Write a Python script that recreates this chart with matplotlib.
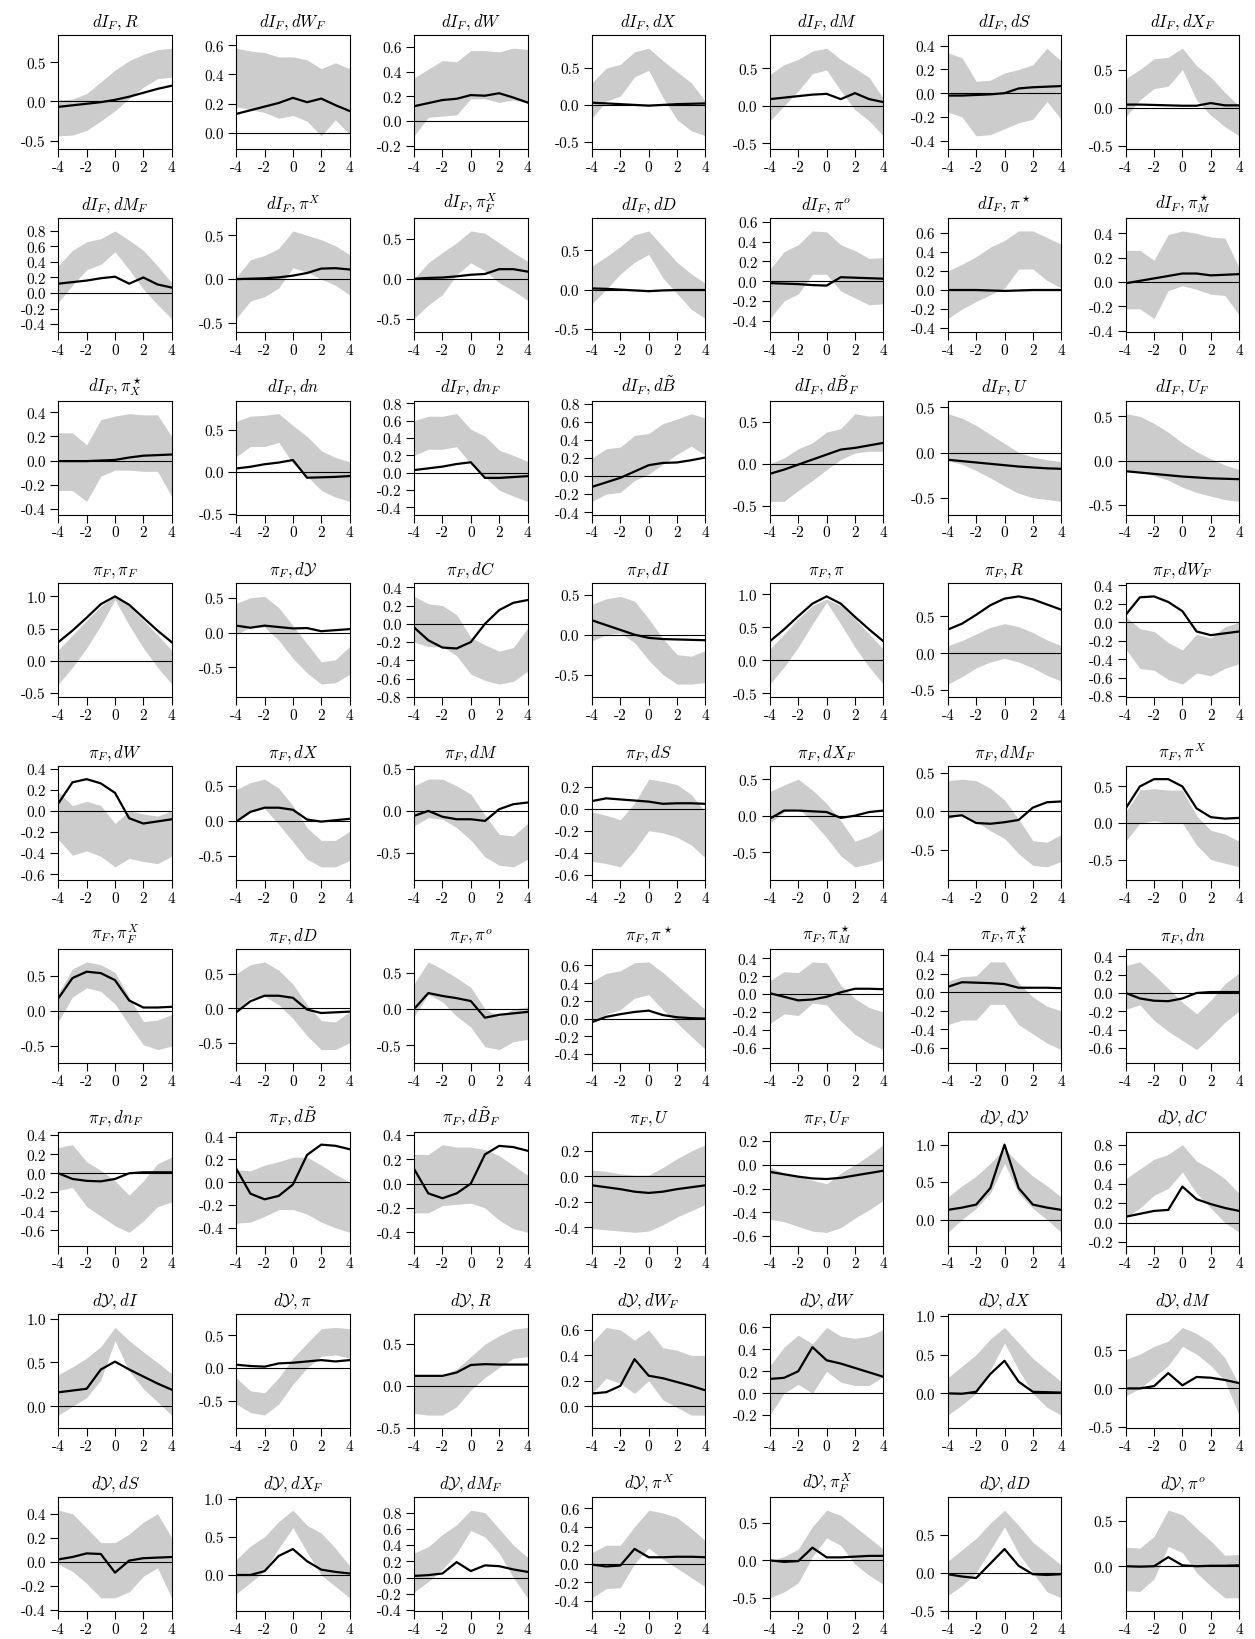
import matplotlib
matplotlib.use('Agg')
import matplotlib.pyplot as plt
from matplotlib.ticker import MultipleLocator, FuncFormatter
import numpy as np

plt.rcParams['font.family'] = ['cmr10', 'DejaVu Serif']
plt.rcParams['mathtext.fontset'] = 'cm'
plt.rcParams['axes.unicode_minus'] = False
plt.rcParams['axes.formatter.use_mathtext'] = True

horizon = [-4, -3, -2, -1, 0, 1, 2, 3, 4]

titles = [
    r'$dI_F, R$', r'$dI_F, dW_F$', r'$dI_F, dW$', r'$dI_F, dX$', r'$dI_F, dM$', r'$dI_F, dS$', r'$dI_F, dX_F$',
    r'$dI_F, dM_F$', r'$dI_F, \pi^X$', r'$dI_F, \pi^X_F$', r'$dI_F, dD$', r'$dI_F, \pi^o$', r'$dI_F, \pi^\star$', r'$dI_F, \pi^\star_M$',
    r'$dI_F, \pi^\star_X$', r'$dI_F, dn$', r'$dI_F, dn_F$', r'$dI_F, d\tilde{B}$', r'$dI_F, d\tilde{B}_F$', r'$dI_F, U$', r'$dI_F, U_F$',
    r'$\pi_F, \pi_F$', r'$\pi_F, d\mathcal{Y}$', r'$\pi_F, dC$', r'$\pi_F, dI$', r'$\pi_F, \pi$', r'$\pi_F, R$', r'$\pi_F, dW_F$',
    r'$\pi_F, dW$', r'$\pi_F, dX$', r'$\pi_F, dM$', r'$\pi_F, dS$', r'$\pi_F, dX_F$', r'$\pi_F, dM_F$', r'$\pi_F, \pi^X$',
    r'$\pi_F, \pi^X_F$', r'$\pi_F, dD$', r'$\pi_F, \pi^o$', r'$\pi_F, \pi^\star$', r'$\pi_F, \pi^\star_M$', r'$\pi_F, \pi^\star_X$', r'$\pi_F, dn$',
    r'$\pi_F, dn_F$', r'$\pi_F, d\tilde{B}$', r'$\pi_F, d\tilde{B}_F$', r'$\pi_F, U$', r'$\pi_F, U_F$', r'$d\mathcal{Y}, d\mathcal{Y}$', r'$d\mathcal{Y}, dC$',
    r'$d\mathcal{Y}, dI$', r'$d\mathcal{Y}, \pi$', r'$d\mathcal{Y}, R$', r'$d\mathcal{Y}, dW_F$', r'$d\mathcal{Y}, dW$', r'$d\mathcal{Y}, dX$', r'$d\mathcal{Y}, dM$',
    r'$d\mathcal{Y}, dS$', r'$d\mathcal{Y}, dX_F$', r'$d\mathcal{Y}, dM_F$', r'$d\mathcal{Y}, \pi^X$', r'$d\mathcal{Y}, \pi^X_F$', r'$d\mathcal{Y}, dD$', r'$d\mathcal{Y}, \pi^o$',
]

# median response
irf = [
    [-0.07, -0.05, -0.03, -0.01, 0.02, 0.06, 0.11, 0.16, 0.20],
    [0.13, 0.155, 0.18, 0.205, 0.24, 0.21, 0.235, 0.19, 0.15],
    [0.12, 0.145, 0.17, 0.18, 0.21, 0.205, 0.225, 0.19, 0.15],
    [0.03, 0.02, 0.01, 0.0, -0.01, 0.0, 0.01, 0.015, 0.02],
    [0.09, 0.11, 0.13, 0.15, 0.16, 0.09, 0.17, 0.09, 0.05],
    [-0.02, -0.02, -0.015, -0.01, 0.0, 0.04, 0.05, 0.055, 0.06],
    [0.04, 0.04, 0.035, 0.03, 0.025, 0.025, 0.06, 0.03, 0.03],
    [0.12, 0.14, 0.16, 0.19, 0.21, 0.12, 0.2, 0.11, 0.07],
    [0.0, 0.005, 0.01, 0.02, 0.04, 0.07, 0.12, 0.125, 0.11],
    [0.0, 0.01, 0.015, 0.03, 0.05, 0.06, 0.12, 0.12, 0.09],
    [0.015, 0.01, 0.0, -0.01, -0.02, -0.01, -0.005, -0.005, -0.005],
    [-0.02, -0.025, -0.03, -0.04, -0.045, 0.04, 0.035, 0.03, 0.025],
    [0.0, 0.0, 0.0, -0.005, -0.01, -0.005, 0.0, 0.0, 0.0],
    [-0.01, 0.01, 0.03, 0.05, 0.07, 0.07, 0.055, 0.06, 0.065],
    [-0.005, -0.005, -0.005, 0.0, 0.005, 0.025, 0.04, 0.045, 0.05],
    [0.04, 0.06, 0.09, 0.11, 0.14, -0.07, -0.065, -0.06, -0.05],
    [0.03, 0.05, 0.07, 0.1, 0.12, -0.06, -0.06, -0.05, -0.04],
    [-0.12, -0.07, -0.02, 0.05, 0.12, 0.145, 0.15, 0.175, 0.205],
    [-0.12, -0.07, -0.01, 0.05, 0.11, 0.17, 0.19, 0.22, 0.25],
    [-0.08, -0.095, -0.11, -0.125, -0.14, -0.155, -0.165, -0.175, -0.18],
    [-0.12, -0.135, -0.15, -0.165, -0.18, -0.19, -0.2, -0.205, -0.21],
    [0.29, 0.47, 0.67, 0.88, 1.0, 0.87, 0.67, 0.47, 0.29],
    [0.1, 0.07, 0.1, 0.08, 0.06, 0.065, 0.02, 0.035, 0.05],
    [-0.04, -0.18, -0.26, -0.27, -0.2, 0.0, 0.15, 0.23, 0.26],
    [0.18, 0.12, 0.06, 0.0, -0.04, -0.055, -0.06, -0.065, -0.07],
    [0.29, 0.47, 0.67, 0.86, 0.97, 0.86, 0.66, 0.47, 0.29],
    [0.32, 0.4, 0.52, 0.65, 0.74, 0.77, 0.73, 0.66, 0.59],
    [0.08, 0.27, 0.28, 0.22, 0.12, -0.1, -0.14, -0.12, -0.1],
    [0.07, 0.27, 0.3, 0.26, 0.17, -0.07, -0.12, -0.1, -0.08],
    [-0.01, 0.13, 0.19, 0.19, 0.16, 0.02, -0.01, 0.01, 0.03],
    [-0.06, 0.0, -0.07, -0.1, -0.1, -0.12, 0.02, 0.08, 0.1],
    [0.07, 0.095, 0.085, 0.075, 0.065, 0.045, 0.05, 0.05, 0.045],
    [-0.04, 0.07, 0.07, 0.06, 0.05, -0.03, 0.0, 0.05, 0.07],
    [-0.07, -0.05, -0.15, -0.16, -0.14, -0.11, 0.05, 0.12, 0.13],
    [0.2, 0.5, 0.6, 0.6, 0.5, 0.2, 0.08, 0.06, 0.07],
    [0.18, 0.47, 0.56, 0.54, 0.44, 0.15, 0.05, 0.05, 0.06],
    [-0.06, 0.1, 0.18, 0.18, 0.15, -0.02, -0.07, -0.06, -0.05],
    [0.0, 0.22, 0.18, 0.15, 0.11, -0.12, -0.08, -0.06, -0.04],
    [-0.04, 0.02, 0.05, 0.075, 0.09, 0.04, 0.015, 0.005, 0.0],
    [0.01, -0.03, -0.07, -0.06, -0.03, 0.02, 0.06, 0.06, 0.055],
    [0.06, 0.11, 0.105, 0.1, 0.09, 0.05, 0.05, 0.05, 0.045],
    [0.0, -0.06, -0.085, -0.09, -0.06, 0.0, 0.01, 0.01, 0.01],
    [0.0, -0.06, -0.08, -0.085, -0.06, 0.0, 0.01, 0.01, 0.01],
    [0.12, -0.1, -0.15, -0.12, -0.02, 0.24, 0.33, 0.32, 0.29],
    [0.12, -0.08, -0.12, -0.08, 0.0, 0.24, 0.31, 0.3, 0.27],
    [-0.07, -0.085, -0.1, -0.12, -0.13, -0.12, -0.1, -0.085, -0.07],
    [-0.06, -0.08, -0.1, -0.115, -0.12, -0.11, -0.09, -0.07, -0.05],
    [0.13, 0.16, 0.2, 0.42, 1.0, 0.42, 0.2, 0.16, 0.13],
    [0.06, 0.09, 0.12, 0.13, 0.37, 0.24, 0.19, 0.15, 0.12],
    [0.16, 0.18, 0.2, 0.42, 0.51, 0.42, 0.34, 0.26, 0.19],
    [0.05, 0.03, 0.02, 0.07, 0.08, 0.1, 0.12, 0.1, 0.12],
    [0.12, 0.12, 0.12, 0.16, 0.25, 0.26, 0.255, 0.255, 0.255],
    [0.1, 0.11, 0.16, 0.37, 0.24, 0.22, 0.19, 0.16, 0.125],
    [0.13, 0.14, 0.2, 0.42, 0.3, 0.27, 0.23, 0.19, 0.15],
    [0.0, -0.005, 0.02, 0.25, 0.42, 0.15, 0.02, 0.015, 0.01],
    [0.0, 0.0, 0.03, 0.2, 0.04, 0.15, 0.14, 0.11, 0.07],
    [0.02, 0.04, 0.07, 0.065, -0.09, 0.01, 0.03, 0.035, 0.04],
    [0.0, 0.0, 0.05, 0.25, 0.34, 0.18, 0.07, 0.04, 0.02],
    [0.02, 0.03, 0.05, 0.19, 0.08, 0.15, 0.14, 0.1, 0.07],
    [-0.01, -0.03, -0.02, 0.16, 0.07, 0.07, 0.075, 0.075, 0.07],
    [0.0, -0.02, -0.01, 0.17, 0.04, 0.04, 0.05, 0.06, 0.06],
    [-0.02, -0.05, -0.07, 0.12, 0.31, 0.09, -0.02, -0.03, -0.02],
    [0.0, -0.005, 0.0, 0.1, 0.01, 0.0, 0.005, 0.005, 0.01],
]

# lower edge of band
lower = [
    [-0.44, -0.43, -0.37, -0.25, -0.12, 0.04, 0.18, 0.29, 0.31],
    [0.18, 0.16, 0.14, 0.10, 0.12, 0.08, -0.02, 0.09, -0.01],
    [-0.12, 0.03, 0.04, 0.05, 0.18, 0.18, 0.15, 0.17, 0.15],
    [-0.18, 0.05, 0.12, 0.38, 0.47, 0.1, -0.2, -0.35, -0.42],
    [-0.2, 0.0, 0.2, 0.43, 0.48, 0.2, -0.05, -0.2, -0.4],
    [-0.16, -0.2, -0.36, -0.35, -0.3, -0.25, -0.22, -0.07, -0.22],
    [-0.12, 0.1, 0.25, 0.28, 0.5, 0.1, -0.1, -0.25, -0.37],
    [-0.12, 0.1, 0.3, 0.37, 0.53, 0.3, 0.05, -0.15, -0.33],
    [-0.45, -0.25, -0.2, -0.1, 0.13, 0.08, 0.0, -0.07, -0.18],
    [-0.5, -0.33, -0.2, 0.05, 0.2, 0.1, -0.05, -0.15, -0.27],
    [-0.18, 0.0, 0.2, 0.35, 0.45, 0.15, -0.05, -0.25, -0.37],
    [-0.38, -0.2, -0.13, 0.07, 0.07, -0.1, -0.17, -0.24, -0.23],
    [-0.3, -0.2, -0.12, -0.05, 0.02, 0.22, 0.22, 0.1, 0.02],
    [-0.22, -0.22, -0.3, -0.07, -0.03, -0.06, -0.1, -0.11, -0.27],
    [-0.25, -0.25, -0.34, -0.13, -0.08, -0.08, -0.09, -0.09, -0.3],
    [0.18, 0.3, 0.3, 0.35, 0.1, -0.05, -0.22, -0.3, -0.35],
    [0.2, 0.27, 0.27, 0.3, 0.1, -0.05, -0.2, -0.27, -0.33],
    [-0.28, -0.2, -0.18, -0.05, 0.02, 0.13, 0.24, 0.33, 0.23],
    [-0.45, -0.45, -0.32, -0.2, -0.07, 0.05, 0.13, 0.15, 0.15],
    [-0.09, -0.13, -0.2, -0.28, -0.37, -0.45, -0.5, -0.52, -0.54],
    [-0.12, -0.13, -0.17, -0.22, -0.3, -0.36, -0.4, -0.44, -0.46],
    [-0.36, -0.1, 0.2, 0.55, 0.95, 0.55, 0.2, -0.1, -0.36],
    [-0.03, 0.08, 0.08, -0.11, -0.37, -0.58, -0.74, -0.72, -0.6],
    [-0.2, -0.25, -0.25, -0.35, -0.55, -0.62, -0.66, -0.63, -0.52],
    [-0.08, 0.0, 0.02, -0.1, -0.32, -0.5, -0.62, -0.62, -0.6],
    [-0.36, -0.1, 0.2, 0.55, 0.88, 0.55, 0.2, -0.1, -0.36],
    [-0.42, -0.32, -0.2, -0.12, -0.07, -0.12, -0.2, -0.3, -0.38],
    [-0.29, -0.5, -0.52, -0.62, -0.67, -0.55, -0.58, -0.5, -0.45],
    [-0.27, -0.42, -0.38, -0.43, -0.53, -0.45, -0.48, -0.5, -0.43],
    [0.0, 0.12, 0.18, -0.05, -0.3, -0.55, -0.66, -0.66, -0.57],
    [-0.18, -0.08, -0.1, -0.2, -0.35, -0.55, -0.65, -0.67, -0.58],
    [-0.48, -0.5, -0.53, -0.38, -0.2, -0.22, -0.26, -0.33, -0.45],
    [-0.1, 0.05, 0.1, -0.08, -0.3, -0.55, -0.7, -0.66, -0.6],
    [-0.1, -0.03, -0.13, -0.25, -0.35, -0.55, -0.7, -0.72, -0.65],
    [-0.25, 0.0, 0.03, 0.0, 0.0, -0.3, -0.5, -0.55, -0.6],
    [-0.15, 0.2, 0.33, 0.28, 0.1, -0.2, -0.48, -0.55, -0.5],
    [-0.03, 0.15, 0.17, 0.05, -0.15, -0.4, -0.6, -0.6, -0.5],
    [-0.1, 0.2, 0.1, -0.1, -0.25, -0.52, -0.56, -0.45, -0.42],
    [-0.04, 0.05, 0.1, 0.23, 0.27, 0.1, -0.05, -0.2, -0.35],
    [-0.33, -0.22, -0.24, -0.1, -0.12, -0.3, -0.45, -0.55, -0.62],
    [-0.35, -0.3, -0.3, -0.13, -0.13, -0.35, -0.45, -0.55, -0.62],
    [-0.18, -0.13, -0.3, -0.42, -0.52, -0.62, -0.48, -0.32, -0.2],
    [-0.18, -0.15, -0.35, -0.45, -0.55, -0.62, -0.5, -0.35, -0.3],
    [-0.36, -0.35, -0.3, -0.24, -0.24, -0.28, -0.35, -0.4, -0.44],
    [-0.24, -0.24, -0.18, -0.17, -0.16, -0.2, -0.3, -0.37, -0.4],
    [-0.41, -0.42, -0.43, -0.44, -0.43, -0.38, -0.32, -0.27, -0.22],
    [-0.46, -0.48, -0.52, -0.56, -0.57, -0.53, -0.45, -0.38, -0.3],
    [-0.17, 0.0, 0.15, 0.35, 0.75, 0.35, 0.15, 0.0, -0.17],
    [0.05, 0.15, 0.28, 0.35, 0.52, 0.3, 0.15, 0.0, -0.1],
    [-0.1, 0.0, 0.1, 0.3, 0.75, 0.4, 0.2, 0.05, -0.1],
    [-0.55, -0.68, -0.72, -0.55, -0.25, 0.0, 0.18, 0.2, 0.15],
    [-0.33, -0.35, -0.35, -0.25, -0.05, 0.1, 0.22, 0.33, 0.35],
    [0.1, 0.22, 0.18, 0.1, 0.2, 0.05, -0.01, -0.07, -0.07],
    [-0.2, 0.0, 0.08, 0.0, 0.2, 0.1, 0.07, 0.07, 0.15],
    [-0.28, -0.15, 0.0, 0.3, 0.65, 0.3, 0.0, -0.18, -0.28],
    [-0.1, 0.0, 0.15, 0.3, 0.55, 0.45, 0.3, 0.1, -0.35],
    [-0.02, -0.08, -0.18, -0.3, -0.3, -0.25, -0.12, -0.05, -0.3],
    [-0.25, -0.1, 0.05, 0.35, 0.62, 0.3, 0.0, -0.15, -0.3],
    [-0.18, -0.05, 0.1, 0.3, 0.58, 0.5, 0.3, 0.0, -0.25],
    [-0.37, -0.27, -0.26, 0.0, 0.17, 0.05, -0.05, -0.15, -0.25],
    [-0.5, -0.42, -0.3, 0.05, 0.3, 0.2, -0.05, -0.2, -0.32],
    [-0.3, -0.17, 0.0, 0.3, 0.6, 0.25, 0.0, -0.25, -0.33],
    [-0.27, -0.28, -0.14, 0.22, 0.15, -0.07, -0.22, -0.35, -0.35],
]

# upper edge of band
upper = [
    [0.02, 0.03, 0.1, 0.25, 0.4, 0.52, 0.6, 0.66, 0.68],
    [0.58, 0.56, 0.55, 0.52, 0.52, 0.50, 0.44, 0.48, 0.44],
    [0.35, 0.42, 0.49, 0.48, 0.57, 0.57, 0.56, 0.59, 0.58],
    [0.3, 0.5, 0.55, 0.72, 0.77, 0.6, 0.45, 0.3, 0.05],
    [0.42, 0.55, 0.62, 0.73, 0.77, 0.62, 0.5, 0.38, 0.1],
    [0.34, 0.3, 0.1, 0.11, 0.17, 0.2, 0.24, 0.38, 0.27],
    [0.38, 0.5, 0.64, 0.66, 0.78, 0.55, 0.4, 0.2, 0.02],
    [0.35, 0.55, 0.66, 0.7, 0.8, 0.68, 0.55, 0.35, 0.13],
    [0.02, 0.22, 0.27, 0.35, 0.55, 0.5, 0.45, 0.38, 0.28],
    [0.0, 0.2, 0.33, 0.45, 0.6, 0.57, 0.45, 0.33, 0.22],
    [0.3, 0.42, 0.55, 0.7, 0.75, 0.55, 0.35, 0.2, 0.08],
    [0.12, 0.3, 0.37, 0.51, 0.5, 0.37, 0.31, 0.23, 0.24],
    [0.2, 0.27, 0.35, 0.45, 0.52, 0.62, 0.62, 0.55, 0.48],
    [0.26, 0.26, 0.18, 0.39, 0.42, 0.4, 0.37, 0.36, 0.12],
    [0.23, 0.23, 0.13, 0.34, 0.37, 0.39, 0.38, 0.38, 0.2],
    [0.6, 0.66, 0.67, 0.69, 0.55, 0.42, 0.25, 0.17, 0.12],
    [0.6, 0.65, 0.65, 0.68, 0.5, 0.42, 0.26, 0.2, 0.13],
    [0.2, 0.3, 0.32, 0.45, 0.47, 0.58, 0.63, 0.69, 0.64],
    [0.0, 0.07, 0.18, 0.25, 0.38, 0.42, 0.6, 0.57, 0.58],
    [0.43, 0.38, 0.3, 0.2, 0.1, 0.0, -0.05, -0.08, -0.1],
    [0.53, 0.5, 0.42, 0.32, 0.2, 0.1, 0.02, -0.05, -0.1],
    [0.17, 0.4, 0.63, 0.85, 1.0, 0.85, 0.63, 0.4, 0.17],
    [0.42, 0.5, 0.52, 0.36, 0.1, -0.16, -0.42, -0.39, -0.2],
    [0.3, 0.22, 0.2, 0.1, -0.15, -0.23, -0.3, -0.26, -0.05],
    [0.38, 0.45, 0.48, 0.42, 0.2, -0.05, -0.25, -0.27, -0.2],
    [0.17, 0.4, 0.63, 0.83, 0.93, 0.83, 0.63, 0.4, 0.17],
    [0.1, 0.17, 0.26, 0.35, 0.4, 0.36, 0.28, 0.18, 0.1],
    [0.06, -0.07, -0.1, -0.22, -0.3, -0.13, -0.17, -0.05, 0.0],
    [0.18, 0.05, 0.09, 0.05, -0.12, 0.0, -0.03, -0.05, 0.0],
    [0.45, 0.55, 0.6, 0.47, 0.22, -0.1, -0.28, -0.28, -0.15],
    [0.3, 0.38, 0.38, 0.3, 0.2, -0.05, -0.28, -0.3, -0.15],
    [-0.03, -0.06, -0.1, 0.05, 0.27, 0.25, 0.22, 0.13, -0.03],
    [0.33, 0.42, 0.5, 0.35, 0.17, -0.07, -0.35, -0.28, -0.17],
    [0.4, 0.42, 0.4, 0.3, 0.15, -0.1, -0.38, -0.4, -0.3],
    [0.15, 0.45, 0.47, 0.45, 0.45, 0.1, -0.1, -0.15, -0.25],
    [0.25, 0.6, 0.7, 0.66, 0.55, 0.2, -0.15, -0.13, -0.05],
    [0.5, 0.63, 0.67, 0.55, 0.35, 0.05, -0.18, -0.2, -0.05],
    [0.35, 0.65, 0.55, 0.43, 0.3, 0.0, -0.1, 0.0, 0.03],
    [0.42, 0.51, 0.54, 0.63, 0.64, 0.52, 0.38, 0.24, 0.1],
    [0.15, 0.25, 0.24, 0.36, 0.35, 0.1, -0.05, -0.15, -0.2],
    [0.12, 0.17, 0.18, 0.33, 0.33, 0.1, -0.05, -0.15, -0.2],
    [0.3, 0.34, 0.2, 0.05, -0.1, -0.23, -0.08, 0.1, 0.22],
    [0.27, 0.3, 0.12, 0.03, -0.08, -0.23, -0.08, 0.1, 0.17],
    [0.11, 0.1, 0.15, 0.18, 0.22, 0.22, 0.15, 0.07, 0.0],
    [0.24, 0.24, 0.32, 0.3, 0.3, 0.28, 0.23, 0.15, 0.07],
    [0.05, 0.04, 0.02, 0.01, 0.01, 0.07, 0.14, 0.2, 0.25],
    [-0.02, -0.07, -0.1, -0.13, -0.16, -0.07, 0.0, 0.08, 0.17],
    [0.3, 0.45, 0.58, 0.75, 0.95, 0.75, 0.58, 0.45, 0.3],
    [0.45, 0.55, 0.65, 0.7, 0.8, 0.63, 0.55, 0.45, 0.3],
    [0.36, 0.45, 0.55, 0.68, 0.9, 0.75, 0.62, 0.5, 0.37],
    [-0.15, -0.35, -0.38, -0.15, 0.15, 0.38, 0.6, 0.62, 0.6],
    [0.12, 0.13, 0.13, 0.2, 0.35, 0.5, 0.6, 0.68, 0.7],
    [0.5, 0.62, 0.6, 0.52, 0.6, 0.46, 0.44, 0.4, 0.4],
    [0.25, 0.42, 0.53, 0.45, 0.6, 0.52, 0.5, 0.52, 0.58],
    [0.2, 0.35, 0.5, 0.7, 0.85, 0.65, 0.45, 0.3, 0.15],
    [0.38, 0.45, 0.55, 0.62, 0.8, 0.72, 0.6, 0.4, 0.05],
    [0.43, 0.4, 0.28, 0.16, 0.16, 0.23, 0.33, 0.4, 0.2],
    [0.2, 0.38, 0.5, 0.7, 0.85, 0.65, 0.55, 0.35, 0.12],
    [0.3, 0.38, 0.53, 0.65, 0.83, 0.8, 0.6, 0.4, 0.25],
    [0.12, 0.2, 0.2, 0.4, 0.58, 0.55, 0.5, 0.38, 0.25],
    [0.0, 0.05, 0.15, 0.45, 0.67, 0.6, 0.45, 0.3, 0.15],
    [0.15, 0.3, 0.45, 0.65, 0.82, 0.62, 0.4, 0.25, 0.1],
    [0.21, 0.2, 0.33, 0.62, 0.57, 0.42, 0.28, 0.12, 0.13],
]

# y tick spacing for each panel
ystep = [
    0.5, 0.2, 0.2, 0.5, 0.5, 0.2, 0.5,
    0.2, 0.5, 0.5, 0.5, 0.2, 0.2, 0.2,
    0.2, 0.5, 0.2, 0.2, 0.5, 0.5, 0.5,
    0.5, 0.5, 0.2, 0.5, 0.5, 0.5, 0.2,
    0.2, 0.5, 0.5, 0.2, 0.5, 0.5, 0.5,
    0.5, 0.5, 0.5, 0.2, 0.2, 0.2, 0.2,
    0.2, 0.2, 0.2, 0.2, 0.2, 0.5, 0.2,
    0.5, 0.5, 0.5, 0.2, 0.2, 0.5, 0.5,
    0.2, 0.5, 0.2, 0.2, 0.5, 0.5, 0.5,
]

W, H = 1255.0, 1640.0
fig = plt.figure(figsize=(12.55, 16.4), dpi=100)

fmt = FuncFormatter(lambda v, p: '%.1f' % (0.0 if abs(v) < 1e-9 else v))

for k in range(63):
    r, c = k // 7, k % 7
    left = 58.3 + 177.9 * c
    top = 36.0 + 182.75 * r
    ax = fig.add_axes([left / W, 1 - (top + 114.0) / H, 113.4 / W, 114.0 / H])
    ax.fill_between(horizon, lower[k], upper[k], color='#cccccc', linewidth=0, zorder=1)
    ax.axhline(0, color='black', lw=0.8, zorder=2)
    ax.plot(horizon, irf[k], color='black', lw=1.6, zorder=3)
    ax.set_xlim(-4, 4)
    ax.margins(y=0.15)
    ax.autoscale_view()
    ax.set_xticks([-4, -2, 0, 2, 4])
    ax.set_xticklabels(['-4', '-2', '0', '2', '4'])
    ax.yaxis.set_major_locator(MultipleLocator(ystep[k]))
    ax.yaxis.set_major_formatter(fmt)
    ax.tick_params(axis='both', direction='out', length=5.5, width=0.8, labelsize=11)
    ax.tick_params(axis='x', pad=2.5)
    ax.tick_params(axis='y', pad=3.5)
    for s in ax.spines.values():
        s.set_linewidth(0.8)
    ax.set_title(titles[k], fontsize=12, pad=7)

fig.savefig('out.png', dpi=100)
